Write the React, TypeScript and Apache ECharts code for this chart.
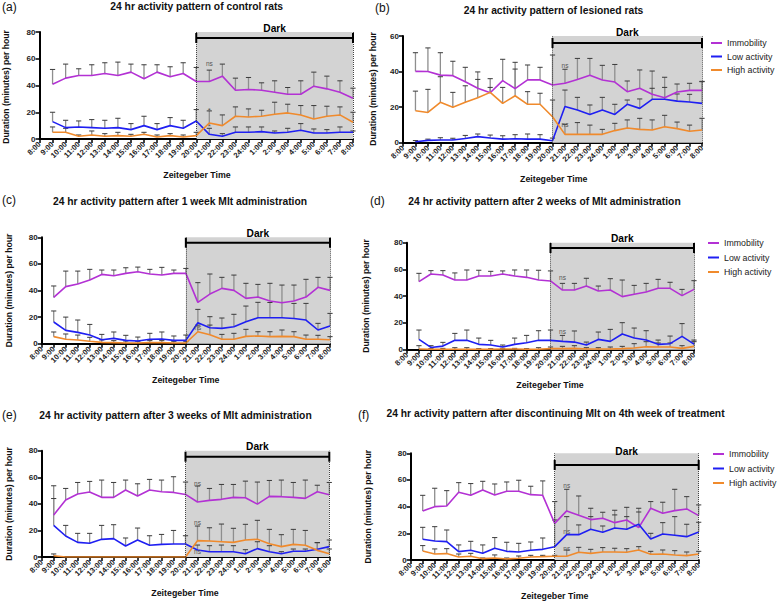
import React, { useEffect, useRef } from 'react';
import * as echarts from 'echarts';

const hourLabels = ['8:00', '9:00', '10:00', '11:00', '12:00', '13:00', '14:00', '15:00', '16:00', '17:00', '18:00', '19:00', '20:00', '21:00', '22:00', '23:00', '24:00', '1:00', '2:00', '3:00', '4:00', '5:00', '6:00', '7:00', '8:00'];
const seriesNames = ['Immobility', 'Low activity', 'High activity'];

// (a) control rats
const immobilityA = [41, 45.5, 47.5, 47.5, 49, 47.5, 50, 45, 50, 46.5, 49, 43, 43, 47, 36.5, 37, 36.5, 35, 33.5, 33.5, 39.5, 37.5, 35, 30.5];
const immobilityUpperA = [52, 56, 52.5, 55.5, 57, 57.5, 56, 55.5, 55.5, 54, 57, 53.5, 51.5, 56, 45.5, 46, 42, 43.5, 38.5, 43.5, 50, 47, 43.5, 38];
const lowA = [13, 8.5, 9, 8.5, 8, 8.5, 7, 10, 7, 10, 8, 13.5, 3.5, 2, 5, 5, 5.5, 4.5, 5, 6.5, 4.5, 4.5, 5, 5];
const lowUpperA = [20, 14, 13.5, 14.5, 14, 15.5, 11.5, 17, 11.5, 16, 14, 22, 8, 4, 9, 9, 9, 6, 8, 11.5, 7.5, 7, 9, 6];
const highA = [5, 5, 2, 3, 2, 2.5, 2, 3.5, 1.5, 2.5, 1.5, 2.5, 12, 10, 17, 16.5, 17, 18.5, 19.5, 18, 15, 17, 18, 12.5];
const highUpperA = [9, 8, 3, 6, 4, 5, 3.5, 5, 3, 4, 3, 5, 21, 18, 24, 22.5, 21.5, 27.5, 26, 25, 25, 24.5, 24, 20];

// (b) lesioned rats
const immobilityB = [40.1, 40, 38, 37.7, 34.3, 30.6, 28.1, 34.9, 30.4, 35.3, 35.3, 32.4, 33.4, 35.6, 37.9, 35.3, 34.1, 28.7, 30.6, 27.2, 25.3, 28.5, 29.4, 29.4];
const immobilityUpperB = [50.6, 53.3, 50.6, 45.8, 42.4, 39.8, 36, 46.9, 45.2, 43.7, 42.4, 49.3, 41.3, 47.4, 47.4, 43.5, 44, 34.7, 40.9, 40.3, 36.8, 33, 33.4, 34.5];
const lowB = [0.5, 1.3, 1.5, 1.5, 2.4, 3.4, 2.6, 2, 2.2, 2, 2, 1.1, 20.3, 18.4, 15.9, 18.4, 15.9, 21.6, 19.3, 24.4, 24.4, 23.4, 22.9, 22.1];
const lowUpperB = [1.2, 2, 2.8, 2.5, 4.1, 4.9, 4.3, 3.9, 4.5, 4.9, 4.5, 2.6, 29.6, 25.5, 21.2, 25.5, 21.6, 24, 24.6, 30.6, 31.1, 27.4, 27.2, 34.3];
const highB = [18, 17, 22.7, 19.9, 22.7, 25.3, 28.3, 22.1, 26.4, 21.6, 21.6, 14.6, 4.7, 4.7, 4.7, 4.7, 6.8, 8.3, 7.5, 7.1, 9, 7.9, 6.4, 7.1];
const highUpperB = [29, 30, 37.1, 28.3, 32, 35.6, 31.1, 31.1, 41.4, 28.7, 27.8, 24, 10.3, 11.3, 9.9, 7.5, 10.9, 12.8, 13.7, 12.8, 15.4, 11.6, 9.9, 13.7];

// (c) after 1 week Mlt
const immobilityC = [34.8, 42.9, 44.9, 47.9, 52.1, 51.1, 52.9, 54.1, 52.4, 51.6, 52.9, 52.9, 31.1, 37.3, 41.6, 40.1, 34.1, 35.1, 32.1, 30.8, 32.1, 35.1, 42.4, 40.1];
const immobilityUpperC = [43.4, 54.6, 54.6, 55.9, 55.4, 55.4, 57.1, 57.6, 55.9, 57.4, 55.4, 56.6, 45.9, 52.4, 49.9, 51.6, 45.4, 44.6, 45.4, 44.1, 44.1, 48.4, 49.9, 49.9];
const lowC = [16.3, 10, 8.5, 6.5, 3, 4, 2.5, 2, 3.3, 3.5, 2.5, 2.5, 15.8, 12, 11.5, 12.8, 16.5, 19.5, 19.5, 19.5, 19, 17.8, 10.3, 13.3];
const lowUpperC = [24.6, 20, 17.8, 14.5, 7, 8.8, 6.3, 5, 7.8, 8.8, 5.8, 6.5, 25.8, 20.3, 19.3, 22.1, 28.3, 31.1, 31, 31, 30.3, 30.3, 15.3, 22.8];
const highC = [5.3, 3.3, 2.8, 1.8, 1, 0.8, 0.5, 0.5, 0.8, 0.8, 0.5, 0.5, 9, 6.8, 3.3, 3.3, 5.5, 5.8, 5.3, 5.5, 5.3, 3.3, 3.3, 3];
const highUpperC = [8.8, 7.3, 6.5, 4.8, 2.8, 2.3, 2, 1.8, 2.3, 2.3, 1.8, 1.5, 14, 14, 7, 7.8, 10.8, 9, 9, 10.3, 9, 6.5, 6.3, 5.3];

// (d) after 2 weeks Mlt
const immobilityD = [50.9, 56.6, 55.9, 52.1, 52.1, 55.1, 55.1, 56.6, 55.1, 54.1, 52.1, 51.4, 44.6, 44.6, 47.6, 43.9, 44.6, 39.7, 41.4, 43.1, 45.9, 45.9, 40.4, 45.1];
const immobilityUpperD = [57.1, 59.1, 59.1, 57.4, 59.6, 59.4, 58.6, 58.9, 59.6, 59.6, 59.4, 58.9, 49.6, 49.6, 53.4, 47.6, 53.1, 52.1, 48.1, 49.6, 52.6, 50.4, 45.1, 51.6];
const lowD = [7.7, 1.7, 2.7, 7, 7, 4, 3.5, 2, 4, 5.2, 7, 7, 6.2, 5.7, 3.5, 7.7, 6.2, 11.7, 8.7, 7.2, 4, 4.5, 10, 4.2];
const lowUpperD = [14.7, 3, 5.5, 12.2, 14.7, 8.7, 7, 3.5, 8.7, 10.7, 14.2, 14.7, 10.7, 14, 5.7, 13.2, 15.2, 20.2, 16.2, 14.2, 7.2, 10.2, 19.5, 7.2];
const highD = [0.5, 0.3, 0.3, 0.3, 0.3, 0.3, 0.3, 0.5, 0.5, 0.3, 0.3, 0.8, 0.8, 1, 0.5, 0.5, 0.5, 0.8, 1.3, 2.2, 2, 2, 1, 2.5];
const highUpperD = [3, 0.8, 1, 1.5, 1.5, 0.8, 0.8, 1, 1, 0.8, 1.5, 2, 2.5, 3, 1.5, 1.5, 2, 2.5, 4.5, 6, 5, 5, 3, 6];

// (e) after 3 weeks Mlt
const immobilityE = [31.6, 42.9, 47.4, 48.9, 44.9, 44.9, 50.4, 45.9, 50.4, 49.1, 48.6, 47.1, 41.4, 42.6, 43.4, 44.9, 44.6, 39.8, 45.6, 45.4, 44.9, 44.1, 49.1, 46.9];
const immobilityUpperE = [53.6, 51.6, 56.1, 56.9, 57.9, 56.1, 57.9, 55.1, 58.4, 57.9, 60.4, 56.4, 53.4, 51.6, 54.6, 54.6, 57.1, 56.4, 57.6, 57.9, 56.1, 57.9, 54, 56.1];
const lowE = [23.8, 15.8, 11, 10.3, 13.3, 13.8, 8.3, 12.8, 8.8, 9.5, 9.8, 9.8, 5.3, 4, 4, 4, 2.5, 6.3, 4, 2.5, 4.3, 4.3, 5.8, 7.8];
const lowUpperE = [44, 23.8, 17.8, 17.8, 23.8, 24.3, 14.3, 21.8, 16, 17, 20, 16, 9, 8.5, 9, 8.5, 5.5, 11.5, 8.5, 4, 6, 6, 10.8, 12.8];
const highE = [1, 0, 0, 0, 0, 0, 0, 0, 0, 0, 0, 0, 12.3, 12, 11.5, 11, 12.8, 13.3, 10, 7.8, 9.5, 8.8, 5, 2.5];
const highUpperE = [2.3, 0, 0, 0, 0, 0, 0, 0, 0, 0, 0, 0, 23.3, 22, 24.8, 21.6, 24.6, 27.6, 20.8, 16.8, 20.8, 20, 10.8, 6];

// (f) after discontinuing Mlt
const immobilityF = [36.8, 40, 40.5, 50.8, 48.5, 52.5, 48.8, 51.5, 51.5, 49, 48.5, 27.5, 36.8, 33.5, 30.3, 31.3, 28, 30, 24.3, 38.8, 35, 37, 38.3, 33.3];
const immobilityUpperF = [48.5, 53.8, 52, 58, 57.3, 59, 57, 58.5, 59.8, 55.3, 59.3, 43.8, 53, 48, 38.8, 35.8, 37.3, 39.5, 38.8, 43.8, 43.3, 53, 47.5, 41.3];
const lowF = [15.5, 14.3, 13.8, 6.3, 7.3, 5, 8.8, 6.5, 6, 7.3, 8, 10, 19, 19, 23, 20.8, 24, 23, 26.8, 15.8, 19.5, 18.5, 17.5, 21];
const lowUpperF = [24.5, 25, 22.5, 11.3, 14, 11.3, 16.8, 13.3, 12.5, 13.5, 16.5, 30, 32.5, 26.3, 32.5, 25.5, 33.8, 32.5, 36, 20, 28, 32.5, 26.8, 28.3];
const highF = [6.8, 4.5, 4.8, 2.3, 2.8, 1, 1.5, 0.8, 1.3, 2.3, 2.5, 2.8, 2.8, 5.8, 5, 6, 6, 5.8, 7.5, 4.3, 4.5, 3.8, 3.3, 4.5];
const highUpperF = [10.8, 8.3, 8.5, 4.5, 5, 1.5, 3.8, 1.5, 3, 3.5, 3.5, 3.5, 7.5, 9.5, 8, 9.3, 8.8, 8.5, 10, 6.5, 7.5, 7, 6, 6.5];

// significance annotations: [hour index, value, text]
const notesA: [number, number, string][] = [[13, 56.5, 'ns'], [13, 21.5, '*'], [13, 9, '*']];
const notesB: [number, number, string][] = [[13, 43.5, 'ns'], [13, 10, 'ns']];
const notesC: [number, number, string][] = [[13, 12.5, 'ns']];
const notesD: [number, number, string][] = [[13, 54, 'ns'], [13, 13.3, 'ns']];
const notesE: [number, number, string][] = [[13, 55.5, 'ns'], [13, 26, 'ns'], [13, 4, 'ns']];
const notesF: [number, number, string][] = [[13, 55.8, 'ns'], [13, 21.3, 'ns'], [13, 8.5, 'ns']];

const titles = [
  '24 hr activity pattern of control rats',
  '24 hr activity pattern of lesioned rats',
  '24 hr activity pattern after 1 week Mlt administration',
  '24 hr activity pattern after 2 weeks of Mlt administration',
  '24 hr activity pattern after 3 weeks of Mlt administration',
  '24 hr activity pattern after discontinuing Mlt on 4th week of treatment',
];
const panelLabels = ['(a)', '(b)', '(c)', '(d)', '(e)', '(f)'];
const yMaxes = [80, 60, 80, 80, 80, 80];

const FONT = '"Liberation Sans", Arial, Helvetica, sans-serif';
const COLORS = ['#B331D4', '#1F1FF2', '#F08A2C'];

const panels = [
  { data: [immobilityA, lowA, highA], upper: [immobilityUpperA, lowUpperA, highUpperA], notes: notesA,
    grid: { left: 39.5, top: 32, width: 313.5, height: 107 }, darkOff: 6, darkLabelOff: 10,
    title: [196.7, 6.5], label: [2, 7], yName: [6, 87], xName: [197, 175], legend: null as null | number[] },
  { data: [immobilityB, lowB, highB], upper: [immobilityUpperB, lowUpperB, highUpperB], notes: notesB,
    grid: { left: 403, top: 36, width: 299, height: 106.7 }, darkOff: 7, darkLabelOff: 11,
    title: [553.5, 10], label: [375, 7.5], yName: [373, 89], xName: [553.7, 179], legend: [711, 38, 3.5] },
  { data: [immobilityC, lowC, highC], upper: [immobilityUpperC, lowUpperC, highUpperC], notes: notesC,
    grid: { left: 41.7, top: 237.3, width: 288.3, height: 106.4 }, darkOff: 5.4, darkLabelOff: 9.7,
    title: [180, 201.5], label: [2, 200], yName: [9, 290.5], xName: [185.7, 380], legend: null },
  { data: [immobilityD, lowD, highD], upper: [immobilityUpperD, lowUpperD, highUpperD], notes: notesD,
    grid: { left: 407, top: 242.7, width: 287, height: 107 }, darkOff: 5.3, darkLabelOff: 10,
    title: [544.5, 201.5], label: [370, 201], yName: [366, 296], xName: [550, 385], legend: [708, 238, 4.5] },
  { data: [immobilityE, lowE, highE], upper: [immobilityUpperE, lowUpperE, highUpperE], notes: notesE,
    grid: { left: 41.7, top: 450.7, width: 287.6, height: 106.3 }, darkOff: 6, darkLabelOff: 10,
    title: [175.5, 415], label: [2, 415], yName: [9, 504], xName: [185, 592.5], legend: null },
  { data: [immobilityF, lowF, highF], upper: [immobilityUpperF, lowUpperF, highUpperF], notes: notesF,
    grid: { left: 410.7, top: 453.3, width: 288, height: 106.7 }, darkOff: 11.7, darkLabelOff: 13.3,
    title: [555.5, 413.5], label: [358, 414.5], yName: [367.5, 506.7], xName: [554.7, 596], legend: [713, 449, 4.5] },
];

function text(x: number, y: number, str: string, font: string, align = 'center', rotation = 0, fill = '#111') {
  return {
    type: 'text', x, y, rotation, silent: true,
    style: { text: str, font, fill, align, verticalAlign: 'middle', textAlign: align, textVerticalAlign: 'middle' },
  };
}

export default function App() {
  const ref = useRef<HTMLDivElement>(null);
  useEffect(() => {
    if (!ref.current) return;
    const chart = echarts.init(ref.current, undefined, { renderer: 'svg' });
    const grids: any[] = [];
    const xAxes: any[] = [];
    const yAxes: any[] = [];
    const series: any[] = [];
    const graphics: any[] = [];
    const legends: any[] = [];

    panels.forEach((p, i) => {
      const yMax = yMaxes[i];
      grids.push({ ...p.grid, containLabel: false });
      xAxes.push({
        type: 'value', gridIndex: i, min: 0, max: 24, interval: 1,
        axisLine: { show: true, onZero: false, lineStyle: { color: '#000', width: 2 } },
        axisTick: { show: true, length: 4, lineStyle: { color: '#000', width: 1.5 } },
        axisLabel: {
          rotate: 45, margin: 4, fontSize: 7.6, fontWeight: 'bold', fontFamily: FONT, color: '#222',
          formatter: (v: number) => hourLabels[v] ?? '',
        },
        splitLine: { show: false },
      });
      yAxes.push({
        type: 'value', gridIndex: i, min: 0, max: yMax, interval: 20,
        axisLine: { show: true, lineStyle: { color: '#000', width: 2 } },
        axisTick: { show: true, length: 4, lineStyle: { color: '#000', width: 1.5 } },
        axisLabel: { margin: 4, fontSize: 8, fontWeight: 'bold', fontFamily: FONT, color: '#222' },
        splitLine: { show: false },
      });

      // host series for the dark shading and dotted borders
      series.push({
        type: 'line', xAxisIndex: i, yAxisIndex: i, z: 1, silent: true, symbol: 'none',
        data: p.data[0].map((v, k) => [k + 1, v]),
        lineStyle: { opacity: 0 },
        markArea: { silent: true, itemStyle: { color: '#D3D3D3' }, data: [[{ xAxis: 12 }, { xAxis: 24 }]] },
        markLine: {
          silent: true, symbol: ['none', 'none'], label: { show: false },
          lineStyle: { type: 'dotted', color: '#444', width: 1 },
          data: [{ xAxis: 12 }, { xAxis: 24 }],
        },
      });

      // error bars
      p.data.forEach((vals, s) => {
        series.push({
          type: 'custom', xAxisIndex: i, yAxisIndex: i, z: 3, silent: true,
          data: vals.map((v, k) => [k + 1, v, p.upper[s][k]]),
          renderItem: (_params: any, api: any) => {
            const x = api.value(0), m = api.value(1), u = api.value(2);
            if (!(u > m)) return null;
            const p0 = api.coord([x, m]);
            const p1 = api.coord([x, u]);
            return {
              type: 'group',
              children: [
                { type: 'line', shape: { x1: p0[0], y1: p0[1], x2: p1[0], y2: p1[1] }, style: { stroke: '#8E8E8E', lineWidth: 1.3 } },
                { type: 'line', shape: { x1: p1[0] - 2.6, y1: p1[1], x2: p1[0] + 2.6, y2: p1[1] }, style: { stroke: '#3A3A3A', lineWidth: 1 } },
              ],
            };
          },
        });
      });

      // mean lines
      p.data.forEach((vals, s) => {
        series.push({
          name: seriesNames[s], type: 'line', xAxisIndex: i, yAxisIndex: i, z: 4, symbol: 'none',
          data: vals.map((v, k) => [k + 1, v]),
          lineStyle: { color: COLORS[s], width: 1.6 }, itemStyle: { color: COLORS[s] },
        });
      });

      // "Dark" bracket
      series.push({
        type: 'custom', xAxisIndex: i, yAxisIndex: i, z: 5, silent: true,
        data: [[12, 24]],
        renderItem: (_params: any, api: any) => {
          const l = api.coord([api.value(0), yMax]);
          const r = api.coord([api.value(1), yMax]);
          const y = l[1] + p.darkOff;
          return {
            type: 'group',
            children: [
              { type: 'line', shape: { x1: l[0], y1: y, x2: r[0], y2: y }, style: { stroke: '#000', lineWidth: 2 } },
              { type: 'line', shape: { x1: l[0], y1: y - 5, x2: l[0], y2: y + 5 }, style: { stroke: '#000', lineWidth: 2 } },
              { type: 'line', shape: { x1: r[0], y1: y - 5, x2: r[0], y2: y + 5 }, style: { stroke: '#000', lineWidth: 2 } },
              {
                type: 'text', x: (l[0] + r[0]) / 2, y: y - p.darkLabelOff,
                style: { text: 'Dark', font: `bold 10.2px ${FONT}`, fill: '#000', align: 'center', verticalAlign: 'middle', textAlign: 'center', textVerticalAlign: 'middle' },
              },
            ],
          };
        },
      });

      // significance notes
      series.push({
        type: 'custom', xAxisIndex: i, yAxisIndex: i, z: 6, silent: true,
        data: p.notes.map((n) => [n[0], n[1]]),
        renderItem: (params: any, api: any) => {
          const pt = api.coord([api.value(0), api.value(1)]);
          const t = p.notes[params.dataIndex][2];
          return {
            type: 'text', x: pt[0], y: pt[1],
            style: { text: t, font: `${t === '*' ? 8 : 6.5}px ${FONT}`, fill: '#555', align: 'center', verticalAlign: 'middle', textAlign: 'center', textVerticalAlign: 'middle' },
          };
        },
      });

      graphics.push(text(p.title[0], p.title[1], titles[i], `bold 10.3px ${FONT}`));
      graphics.push(text(p.label[0], p.label[1], panelLabels[i], `12px ${FONT}`, 'left'));
      graphics.push(text(p.yName[0], p.yName[1], 'Duration (minutes) per hour', `bold 8.6px ${FONT}`, 'center', Math.PI / 2));
      graphics.push(text(p.xName[0], p.xName[1], 'Zeitegeber Time', `bold 8.8px ${FONT}`));

      if (p.legend) {
        legends.push({
          orient: 'vertical', left: p.legend[0], top: p.legend[1], padding: 0,
          icon: 'rect', itemWidth: 11, itemHeight: 2,
          itemGap: p.legend[2], selectedMode: false, data: seriesNames,
          textStyle: { fontSize: 8.8, fontFamily: FONT, color: '#222', lineHeight: 10, height: 10 },
        });
      }
    });

    chart.setOption({
      animation: false,
      backgroundColor: '#fff',
      grid: grids,
      xAxis: xAxes,
      yAxis: yAxes,
      legend: legends,
      series,
      graphic: { elements: graphics },
    });
    return () => chart.dispose();
  }, []);
  return <div ref={ref} style={{ position: 'fixed', left: 0, top: 0, width: 777, height: 602, background: '#fff' }} />;
}
